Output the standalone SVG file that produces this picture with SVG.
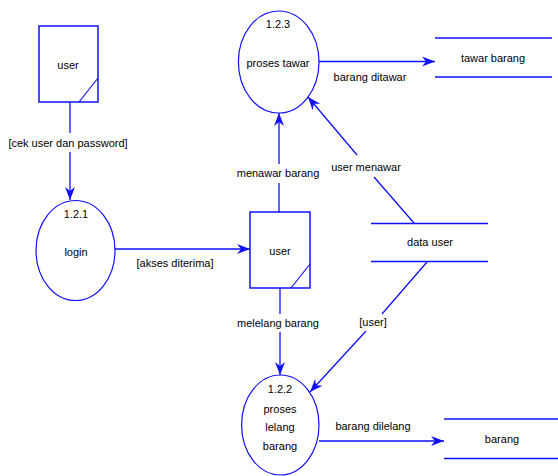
<svg xmlns="http://www.w3.org/2000/svg" width="558" height="476" viewBox="0 0 558 476">
<style>
.s{fill:none;stroke:#1010ff;stroke-width:1.5}
.e{fill:none;stroke:#1010ff;stroke-width:1.2}
.c{fill:none;stroke:#1010ff;stroke-width:1.3}
.t{font-family:"Liberation Sans",Arial,sans-serif;font-size:11px;fill:#000;text-anchor:middle}
</style>
<defs>
<marker id="a" markerUnits="userSpaceOnUse" markerWidth="16" markerHeight="12" viewBox="-14 -6 16 12" refX="0" refY="0" orient="auto">
<path d="M0,0 L-13,-5 L-9,0 L-13,5 Z" fill="#1010ff"/>
</marker>
</defs>
<rect width="558" height="476" fill="#fff"/>
<g id="connectors">
<line class="c" x1="70" y1="102" x2="70" y2="133"/>
<line class="c" x1="70" y1="152" x2="70" y2="200" marker-end="url(#a)"/>
<line class="c" x1="115" y1="249" x2="250" y2="249" marker-end="url(#a)"/>
<line class="c" x1="279" y1="212" x2="279" y2="183"/>
<line class="c" x1="279" y1="164" x2="279" y2="113" marker-end="url(#a)"/>
<line class="c" x1="319" y1="61.5" x2="435" y2="61.5" marker-end="url(#a)"/>
<line class="c" x1="414" y1="223" x2="374" y2="177"/>
<line class="c" x1="357" y1="155" x2="308" y2="97" marker-end="url(#a)"/>
<line class="c" x1="280" y1="288" x2="280" y2="314"/>
<line class="c" x1="280" y1="332" x2="280" y2="375" marker-end="url(#a)"/>
<line class="c" x1="427" y1="262" x2="382" y2="314"/>
<line class="c" x1="366" y1="331" x2="310" y2="392" marker-end="url(#a)"/>
<line class="c" x1="319" y1="441" x2="444" y2="441" marker-end="url(#a)"/>
</g>
<g id="labels">
<text class="t" x="68" y="147">[cek user dan password]</text>
<text class="t" x="175" y="267">[akses diterima]</text>
<text class="t" x="278" y="177">menawar barang</text>
<text class="t" x="370" y="81">barang ditawar</text>
<text class="t" x="366" y="171">user menawar</text>
<text class="t" x="278" y="327">melelang barang</text>
<text class="t" x="373" y="326">[user]</text>
<text class="t" x="373" y="430">barang dilelang</text>
</g>
<g id="user1">
<rect class="s" x="39" y="26" width="59" height="76"/>
<line class="e" x1="98" y1="78" x2="79" y2="102"/>
<text class="t" x="68" y="69">user</text>
</g>
<g id="user2">
<rect class="s" x="250" y="212" width="60" height="76"/>
<line class="e" x1="310" y1="264" x2="291" y2="288"/>
<text class="t" x="280" y="255">user</text>
</g>
<g id="p121">
<ellipse class="e" cx="75.5" cy="250.5" rx="39.5" ry="50"/>
<text class="t" x="76" y="218">1.2.1</text>
<text class="t" x="76" y="256">login</text>
</g>
<g id="p123">
<ellipse class="e" cx="278.7" cy="62" rx="40.3" ry="51"/>
<text class="t" x="278" y="28">1.2.3</text>
<text class="t" x="278" y="67">proses tawar</text>
</g>
<g id="p122">
<ellipse class="e" cx="280.3" cy="425" rx="38.7" ry="50"/>
<text class="t" x="280" y="393">1.2.2</text>
<text class="t" x="280" y="413">proses</text>
<text class="t" x="280" y="431">lelang</text>
<text class="t" x="280" y="450">barang</text>
</g>
<g id="tawarbarang">
<line class="s" x1="435" y1="38" x2="552" y2="38"/>
<line class="s" x1="435" y1="77" x2="552" y2="77"/>
<text class="t" x="493" y="62">tawar barang</text>
</g>
<g id="datauser">
<line class="s" x1="371" y1="223.5" x2="488" y2="223.5"/>
<line class="s" x1="371" y1="261.5" x2="488" y2="261.5"/>
<text class="t" x="430" y="246">data user</text>
</g>
<g id="barang">
<line class="s" x1="444" y1="419" x2="558" y2="419"/>
<line class="s" x1="444" y1="458.5" x2="558" y2="458.5"/>
<text class="t" x="502" y="443">barang</text>
</g>
</svg>
